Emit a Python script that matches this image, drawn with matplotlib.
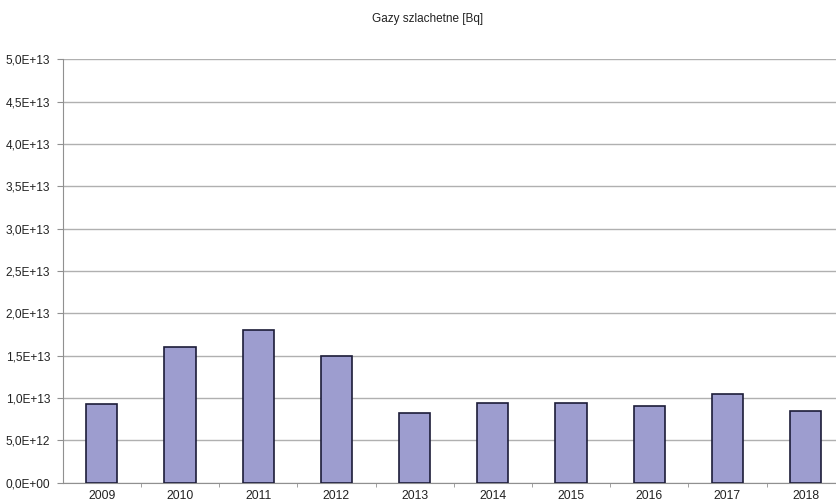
import matplotlib
matplotlib.use("Agg")
import matplotlib.pyplot as plt
from matplotlib.ticker import FixedLocator, FuncFormatter

years = ["2009", "2010", "2011", "2012", "2013", "2014", "2015", "2016", "2017", "2018"]
values = [9.3e12, 16.0e12, 18.0e12, 15.0e12, 8.2e12, 9.4e12, 9.4e12, 9.0e12, 10.5e12, 8.5e12]
y_ticks = [i * 5e12 for i in range(11)]
title = "Gazy szlachetne [Bq]"

plt.rcParams["font.family"] = ["Liberation Sans", "DejaVu Sans"]


def sci_comma(v, pos):
    if v == 0:
        return "0,0E+00"
    return ("%.1E" % v).replace(".", ",")


fig = plt.figure(figsize=(8.36, 5.01), dpi=100)
ax = fig.add_axes([0.075, 0.0365, 0.9355, 0.8453])

x = list(range(len(years)))
ax.bar(x, values, width=0.4, color="#9d9dcf", edgecolor="#1c1c38", linewidth=1.2, zorder=3)

ax.set_xlim(-0.5, len(years) - 0.5)
ax.set_ylim(0, 5e13)
ax.set_yticks(y_ticks)
ax.yaxis.set_major_formatter(FuncFormatter(sci_comma))
ax.grid(axis="y", color="#b0b0b0", linewidth=1.0, zorder=0)

ax.set_xticks(x)
ax.set_xticklabels(years)
ax.tick_params(axis="x", which="major", length=0, labelsize=8.8, pad=5, labelcolor="#222222")
ax.xaxis.set_minor_locator(FixedLocator([i + 0.5 for i in range(len(years))]))
ax.tick_params(axis="x", which="minor", length=3, color="#909090", direction="out")
ax.tick_params(axis="y", length=4, color="#909090", labelsize=8.6, pad=5, labelcolor="#222222")

for s in ["top", "right"]:
    ax.spines[s].set_visible(False)
ax.spines["left"].set_color("#909090")
ax.spines["bottom"].set_color("#909090")

fig.text(0.511, 0.962, title, ha="center", va="center", fontsize=8.5, color="#222222")

fig.savefig("out.png", dpi=100)
